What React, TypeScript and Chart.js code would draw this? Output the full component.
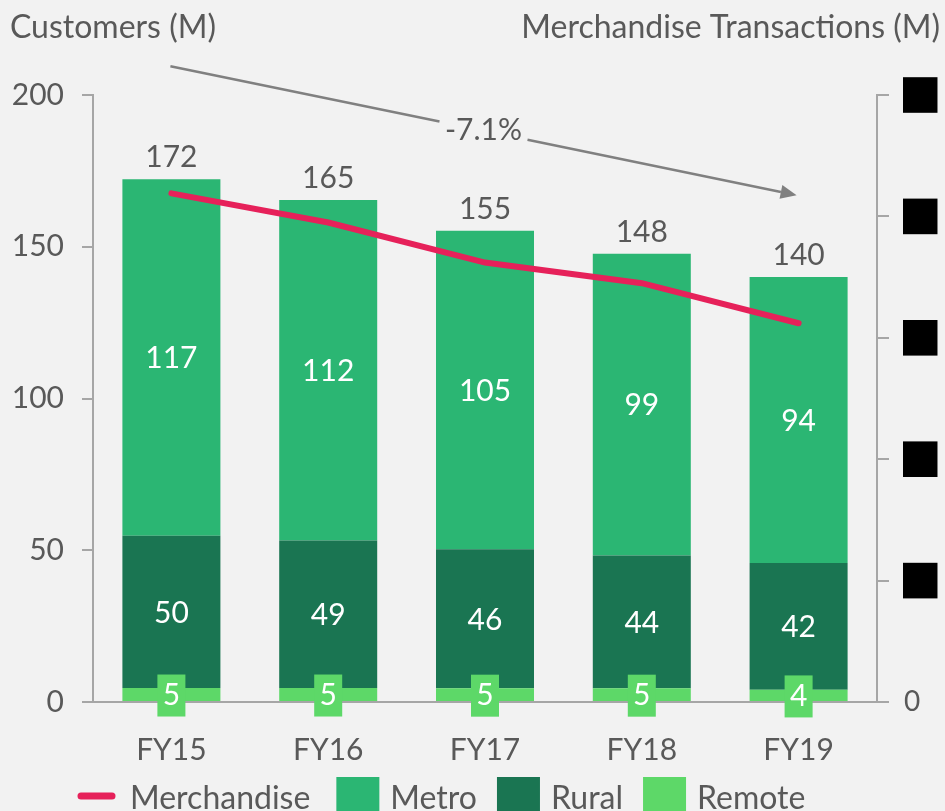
import React, { useEffect, useRef } from 'react';
import { Chart, registerables } from 'chart.js';

Chart.register(...registerables);

// ---------- data ----------
const CATEGORIES = ['FY15', 'FY16', 'FY17', 'FY18', 'FY19'];
const METRO = [117.4, 112.2, 105.0, 99.4, 94.2];
const RURAL = [50.2, 48.6, 45.8, 43.8, 41.8];
const REMOTE = [4.6, 4.6, 4.5, 4.5, 4.0];
const TOTAL_LABELS = ['172', '165', '155', '148', '140'];
const MERCHANDISE = [41.9, 39.5, 36.2, 34.5, 31.2];
const LEFT_TICKS = [0, 50, 100, 150, 200];
const RIGHT_TICKS = [0, 10, 20, 30, 40, 50];
const LEFT_TITLE = 'Customers (M)';
const RIGHT_TITLE = 'Merchandise Transactions (M)';
const CHANGE_LABEL = '-7.1%';
const CHANGE_FROM = 209.5; // left-axis value where the trend arrow starts
const CHANGE_TO = 167; // left-axis value where the trend arrow ends

// ---------- style ----------
const FONT = 'Lato';
const BG = '#f2f2f2';
const TEXT = '#595959';
const AXIS = '#a6a6a6';
const ARROW = '#808080';
const METRO_C = '#2bb673';
const RURAL_C = '#1a7552';
const REMOTE_C = '#5dd868';
const LINE_C = '#e6215a';

const W = 945;
const H = 811;

const labelsPlugin = {
  id: 'valueLabels',
  afterDatasetsDraw(chart: any) {
    const ctx = chart.ctx;
    ctx.save();
    ctx.font = `30px ${FONT}`;
    ctx.textAlign = 'center';
    let topMeta: any = null;
    chart.data.datasets.forEach((ds: any, di: number) => {
      if (ds.type === 'line') return;
      const meta = chart.getDatasetMeta(di);
      if (ds.label === 'Metro') topMeta = meta;
      meta.data.forEach((el: any, i: number) => {
        const { x, y, base } = el.getProps(['x', 'y', 'base'], true);
        const cy = (y + base) / 2;
        const txt = String(Math.round(ds.data[i]));
        if (ds.label === 'Remote') {
          ctx.fillStyle = REMOTE_C;
          ctx.fillRect(x - 14, cy - 20, 28, 42);
        }
        ctx.fillStyle = '#ffffff';
        ctx.textBaseline = 'middle';
        ctx.fillText(txt, x, cy + 1);
      });
    });
    if (topMeta) {
      ctx.fillStyle = TEXT;
      ctx.textBaseline = 'alphabetic';
      topMeta.data.forEach((el: any, i: number) => {
        const { x, y } = el.getProps(['x', 'y'], true);
        ctx.fillText(TOTAL_LABELS[i], x, y - 12);
      });
    }
    ctx.restore();
  },
};

const decorPlugin = {
  id: 'decor',
  afterDraw(chart: any) {
    const ctx = chart.ctx;
    ctx.save();
    ctx.font = `32px ${FONT}`;
    ctx.fillStyle = TEXT;
    ctx.textBaseline = 'alphabetic';
    // axis titles
    ctx.textAlign = 'left';
    ctx.fillText(LEFT_TITLE, 10, 38);
    ctx.textAlign = 'right';
    ctx.fillText(RIGHT_TITLE, W - 5, 38);

    // trend arrow
    const xs = chart.scales.x;
    const ys = chart.scales.y;
    const x0 = xs.getPixelForValue(0) - 1;
    const x1 = xs.getPixelForValue(CATEGORIES.length - 1) - 2;
    const y0 = ys.getPixelForValue(CHANGE_FROM);
    const y1 = ys.getPixelForValue(CHANGE_TO);
    const mx = (x0 + x1) / 2;
    const my = (y0 + y1) / 2;
    const dx = x1 - x0;
    const dy = y1 - y0;
    const len = Math.hypot(dx, dy);
    const ux = dx / len;
    const uy = dy / len;
    const gapL = 44 / ux;
    const gapR = 44 / ux;
    const head = 16;
    ctx.strokeStyle = ARROW;
    ctx.lineWidth = 2.5;
    ctx.beginPath();
    ctx.moveTo(x0, y0);
    ctx.lineTo(mx - ux * gapL, my - uy * gapL);
    ctx.moveTo(mx + ux * gapR, my + uy * gapR);
    ctx.lineTo(x1 - ux * head, y1 - uy * head);
    ctx.stroke();
    ctx.fillStyle = ARROW;
    ctx.beginPath();
    ctx.moveTo(x1, y1);
    ctx.lineTo(x1 - ux * head - uy * 7, y1 - uy * head + ux * 7);
    ctx.lineTo(x1 - ux * head + uy * 7, y1 - uy * head - ux * 7);
    ctx.closePath();
    ctx.fill();
    ctx.font = `30px ${FONT}`;
    ctx.fillStyle = TEXT;
    ctx.textAlign = 'center';
    ctx.textBaseline = 'middle';
    ctx.fillText(CHANGE_LABEL, mx, my);

    // legend
    ctx.font = `32px ${FONT}`;
    const cy = 796;
    let lx = 78;
    ctx.textAlign = 'left';
    ctx.textBaseline = 'alphabetic';
    const baseY = 809;
    const items = [
      { label: 'Merchandise', color: LINE_C, line: true },
      { label: 'Metro', color: METRO_C, line: false },
      { label: 'Rural', color: RURAL_C, line: false },
      { label: 'Remote', color: REMOTE_C, line: false },
    ];
    items.forEach((it, idx) => {
      if (it.line) {
        ctx.strokeStyle = it.color;
        ctx.lineWidth = 7;
        ctx.lineCap = 'round';
        ctx.beginPath();
        ctx.moveTo(lx + 3, cy);
        ctx.lineTo(lx + 34, cy);
        ctx.stroke();
        lx += 37 + 15;
      } else {
        ctx.fillStyle = it.color;
        ctx.fillRect(lx, 777, 43, 44);
        lx += 43 + 11;
      }
      ctx.fillStyle = TEXT;
      ctx.fillText(it.label, lx, baseY);
      lx += ctx.measureText(it.label).width + (idx === 0 ? 26 : 20);
    });
    ctx.restore();
  },
};

export default function App() {
  const ref = useRef<HTMLCanvasElement>(null);

  useEffect(() => {
    if (!ref.current) return;
    const chart = new Chart(ref.current, {
      type: 'bar',
      data: {
        labels: CATEGORIES,
        datasets: [
          {
            type: 'line',
            label: 'Merchandise',
            data: MERCHANDISE,
            yAxisID: 'y1',
            borderColor: LINE_C,
            backgroundColor: LINE_C,
            borderWidth: 6,
            pointRadius: 0,
            borderCapStyle: 'round',
            tension: 0,
            order: 0,
          } as any,
          {
            type: 'bar',
            label: 'Remote',
            data: REMOTE,
            backgroundColor: REMOTE_C,
            stack: 'c',
            yAxisID: 'y',
            order: 1,
          },
          {
            type: 'bar',
            label: 'Rural',
            data: RURAL,
            backgroundColor: RURAL_C,
            stack: 'c',
            yAxisID: 'y',
            order: 1,
          },
          {
            type: 'bar',
            label: 'Metro',
            data: METRO,
            backgroundColor: METRO_C,
            stack: 'c',
            yAxisID: 'y',
            order: 1,
          },
        ],
      },
      options: {
        responsive: true,
        maintainAspectRatio: false,
        animation: false,
        events: [],
        layout: { padding: { top: 95, left: 0, right: 0, bottom: 0 } },
        datasets: { bar: { barPercentage: 0.625, categoryPercentage: 1 } },
        plugins: { legend: { display: false }, tooltip: { enabled: false }, title: { display: false } },
        scales: {
          x: {
            stacked: true,
            grid: { display: false },
            border: { display: true, color: AXIS, width: 2 },
            ticks: { color: TEXT, font: { family: FONT, size: 30 }, padding: 22, maxRotation: 0 },
            afterFit: (s: any) => {
              s.height = H - 702;
            },
          },
          y: {
            type: 'linear',
            position: 'left',
            stacked: true,
            min: 0,
            max: 200,
            afterBuildTicks: (s: any) => {
              s.ticks = LEFT_TICKS.map((v) => ({ value: v }));
            },
            ticks: { color: TEXT, font: { family: FONT, size: 30 }, padding: 18 },
            grid: { drawOnChartArea: false, drawTicks: true, tickLength: 11, color: AXIS, lineWidth: 2 },
            border: { display: true, color: AXIS, width: 2 },
            afterFit: (s: any) => {
              s.width = 93;
            },
          },
          y1: {
            type: 'linear',
            position: 'right',
            min: 0,
            max: 50,
            afterBuildTicks: (s: any) => {
              s.ticks = RIGHT_TICKS.map((v) => ({ value: v }));
            },
            ticks: {
              font: { family: FONT, size: 28 },
              padding: 15,
              color: (c: any) => (c.tick && c.tick.value === 0 ? TEXT : '#000000'),
              showLabelBackdrop: (c: any) => !!(c.tick && c.tick.value !== 0),
              backdropColor: '#000000',
              backdropPadding: { left: 1, right: 1, top: 1, bottom: 1 },
            } as any,
            grid: { drawOnChartArea: false, drawTicks: true, tickLength: 12, color: AXIS, lineWidth: 2 },
            border: { display: true, color: AXIS, width: 2 },
            afterFit: (s: any) => {
              s.width = W - 877;
            },
          },
        },
      },
      plugins: [labelsPlugin, decorPlugin],
    });
    return () => chart.destroy();
  }, []);

  return (
    <div
      style={{
        position: 'fixed',
        left: 0,
        top: 0,
        width: W,
        height: H,
        background: BG,
        overflow: 'hidden',
      }}
    >
      <canvas ref={ref} />
    </div>
  );
}
